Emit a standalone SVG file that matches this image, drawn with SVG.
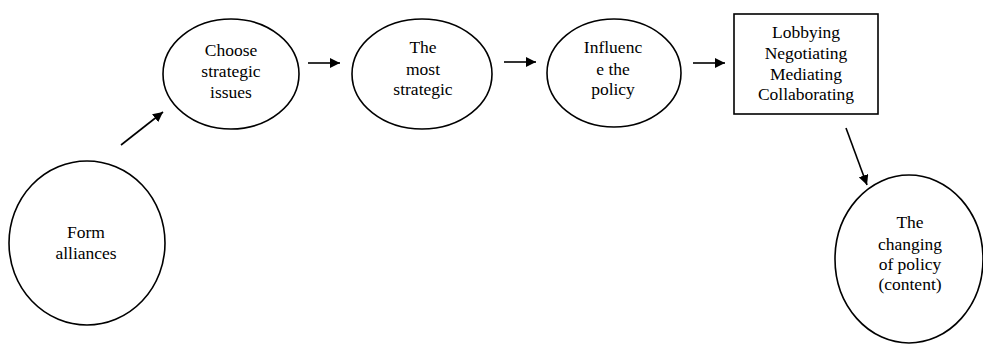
<svg xmlns="http://www.w3.org/2000/svg" width="983" height="345" viewBox="0 0 983 345">
<defs>
<marker id="ah" viewBox="0 0 10 10" refX="10" refY="5" markerWidth="10" markerHeight="10" markerUnits="userSpaceOnUse" orient="auto">
<path d="M0,0 L10,5 L0,10 z" fill="#000"/>
</marker>
<style>
.n{fill:#fff;stroke:#000;stroke-width:1.6}
.t{font-family:'Liberation Serif','Times New Roman',serif;font-size:17.5px;fill:#000;text-anchor:middle}
.c{stroke:#000;stroke-width:1.6;fill:none;marker-end:url(#ah)}
</style>
</defs>
<rect width="983" height="345" fill="#fff"/>
<g id="form">
<ellipse class="n" cx="87" cy="243" rx="78" ry="82"/>
<text class="t" x="86" y="238">Form</text>
<text class="t" x="86" y="259">alliances</text>
</g>
<g id="choose">
<ellipse class="n" cx="231" cy="74" rx="68" ry="55"/>
<text class="t" x="231" y="56">Choose</text>
<text class="t" x="231" y="77">strategic</text>
<text class="t" x="231" y="98">issues</text>
</g>
<g id="most">
<ellipse class="n" cx="422" cy="74" rx="70" ry="55"/>
<text class="t" x="423" y="53">The</text>
<text class="t" x="423" y="75">most</text>
<text class="t" x="423" y="95">strategic</text>
</g>
<g id="influence">
<ellipse class="n" cx="614" cy="73" rx="67" ry="54"/>
<text class="t" x="613" y="53">Influenc</text>
<text class="t" x="613" y="75">e the</text>
<text class="t" x="613" y="95">policy</text>
</g>
<g id="methods">
<rect class="n" x="734" y="14" width="144" height="100"/>
<text class="t" x="806" y="38">Lobbying</text>
<text class="t" x="806" y="59">Negotiating</text>
<text class="t" x="806" y="80">Mediating</text>
<text class="t" x="806" y="100">Collaborating</text>
</g>
<g id="changing">
<ellipse class="n" cx="909" cy="259" rx="74" ry="84"/>
<text class="t" x="910" y="228">The</text>
<text class="t" x="910" y="250">changing</text>
<text class="t" x="910" y="270">of policy</text>
<text class="t" x="910" y="290">(content)</text>
</g>
<g id="connectors">
<line class="c" x1="121" y1="145" x2="163" y2="112"/>
<line class="c" x1="308" y1="63" x2="340" y2="63"/>
<line class="c" x1="504" y1="62" x2="536" y2="62"/>
<line class="c" x1="693" y1="63" x2="725" y2="63"/>
<line class="c" x1="846" y1="128" x2="867" y2="185"/>
</g>
</svg>
